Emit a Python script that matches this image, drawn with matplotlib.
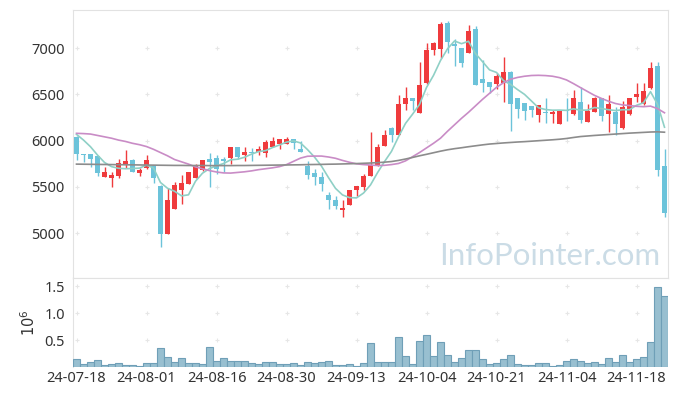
import numpy as np
import matplotlib.pyplot as plt

# 일봉 데이터
opens = [6040, 5855, 5855, 5830, 5610, 5600, 5620, 5745, 5790, 5650,
         5705, 5730, 5510, 4995, 5265, 5460, 5535, 5600, 5680, 5800,
         5810, 5795, 5815, 5930, 5840, 5875, 5875, 5870, 5935, 5960,
         5965, 6015, 5910, 5730, 5645, 5610, 5410, 5355, 5250, 5305,
         5460, 5500, 5620, 5730, 5945, 6140, 6065, 6395, 6460, 6300,
         6620, 6975, 6990, 7275, 7045, 6995, 6950, 7205, 6670, 6630,
         6610, 6625, 6745, 6460, 6405, 6375, 6280, 6310, 6290, 6180,
         6330, 6285, 6415, 6205, 6310, 6460, 6285, 6310, 6135, 6285,
         6475, 6390, 6565, 6805, 5725]
highs = [6045, 5858, 5858, 5835, 5710, 5660, 5795, 5895, 5795, 5700,
         5845, 5735, 5515, 5485, 5555, 5625, 5660, 5745, 5790, 5860,
         5845, 5820, 5935, 5932, 5935, 5915, 5940, 6005, 6040, 6015,
         6035, 6018, 5990, 5780, 5690, 5655, 5445, 5395, 5355, 5470,
         5510, 5640, 6090, 5960, 6115, 6150, 6490, 6575, 6465, 6850,
         7050, 7060, 7285, 7295, 7095, 7000, 7250, 7240, 6870, 6632,
         6725, 6900, 6748, 6462, 6408, 6378, 6380, 6455, 6330, 6320,
         6455, 6545, 6580, 6400, 6470, 6465, 6495, 6365, 6430, 6465,
         6620, 6625, 6850, 6850, 5905]
lows = [5790, 5770, 5715, 5615, 5605, 5500, 5600, 5700, 5660, 5615,
        5695, 5545, 4850, 4990, 5260, 5315, 5530, 5595, 5675, 5500,
        5640, 5665, 5750, 5800, 5780, 5780, 5845, 5825, 5930, 5905,
        5960, 5910, 5875, 5585, 5520, 5455, 5265, 5255, 5175, 5300,
        5395, 5470, 5615, 5725, 5940, 5985, 6060, 6330, 6330, 6295,
        6615, 6925, 6890, 6945, 6810, 6800, 6945, 6600, 6530, 6510,
        6555, 6415, 6105, 6240, 6220, 6250, 6205, 6185, 6185, 6178,
        6215, 6280, 6185, 6200, 6305, 6215, 6090, 6065, 6130, 6280,
        6420, 6385, 6560, 5620, 5175]
closes = [5855, 5845, 5805, 5650, 5660, 5630, 5755, 5780, 5665, 5680,
          5790, 5600, 4995, 5355, 5520, 5540, 5655, 5730, 5790, 5770,
          5690, 5775, 5930, 5825, 5875, 5860, 5910, 5985, 5990, 6015,
          6015, 5975, 5875, 5630, 5610, 5525, 5355, 5295, 5275, 5465,
          5510, 5615, 5735, 5935, 6065, 6065, 6400, 6460, 6430, 6595,
          6980, 7055, 7265, 7060, 7020, 6835, 7185, 6600, 6625, 6575,
          6695, 6745, 6395, 6345, 6315, 6335, 6380, 6300, 6310, 6320,
          6320, 6465, 6225, 6315, 6460, 6265, 6400, 6180, 6360, 6460,
          6505, 6535, 6780, 5680, 5220]
# 거래량 (단위: 10^6)
volumes = [0.14, 0.055, 0.10, 0.13, 0.03, 0.05, 0.07, 0.03, 0.03, 0.012,
           0.068, 0.068, 0.36, 0.18, 0.09, 0.16, 0.068, 0.068, 0.05, 0.38,
           0.12, 0.16, 0.12, 0.12, 0.12, 0.068, 0.05, 0.086, 0.086, 0.05,
           0.05, 0.068, 0.03, 0.10, 0.068, 0.086, 0.12, 0.03, 0.03, 0.05,
           0.012, 0.068, 0.45, 0.086, 0.10, 0.10, 0.55, 0.20, 0.05, 0.49,
           0.60, 0.20, 0.47, 0.23, 0.10, 0.16, 0.31, 0.31, 0.14, 0.05,
           0.068, 0.14, 0.23, 0.05, 0.03, 0.03, 0.068, 0.068, 0.012, 0.03,
           0.12, 0.14, 0.12, 0.068, 0.10, 0.05, 0.16, 0.086, 0.22, 0.10,
           0.14, 0.18, 0.47, 1.49, 1.31]
# 이동평균선 (앞부분은 차트 범위 이전 데이터가 필요하므로 그림에서 읽음)
ma5_head = [6067, 6005, 5933, 5843]
ma20 = [6078, 6075, 6070, 6055, 6040, 6025, 6005, 5990, 5970, 5955,
        5935, 5905, 5870, 5835, 5795, 5770, 5745, 5715, 5695, 5675,
        5660, 5650, 5648, 5655, 5662, 5672, 5685, 5695, 5705, 5718,
        5740, 5775, 5810, 5830, 5832, 5832, 5822, 5808, 5785, 5765,
        5748, 5740, 5735, 5730, 5732, 5740, 5752, 5780, 5825, 5870,
        5920, 5970, 6025, 6100, 6170, 6240, 6305, 6375, 6445, 6510,
        6575, 6625, 6662, 6682, 6695, 6703, 6705, 6702, 6695, 6680,
        6655, 6615, 6572, 6530, 6488, 6455, 6425, 6400, 6385, 6378,
        6370, 6366, 6372, 6345, 6300]
ma120 = [5745, 5744, 5743, 5742, 5741, 5740, 5739, 5738, 5737, 5736,
         5735, 5734, 5733, 5732, 5731, 5731, 5730, 5730, 5730, 5729,
         5729, 5729, 5729, 5730, 5730, 5731, 5732, 5733, 5734, 5735,
         5736, 5737, 5738, 5740, 5741, 5742, 5744, 5745, 5747, 5749,
         5751, 5754, 5757, 5761, 5766, 5773, 5785, 5800, 5817, 5835,
         5851, 5868, 5885, 5900, 5912, 5922, 5933, 5943, 5953, 5962,
         5968, 5974, 5979, 5984, 5988, 5993, 5998, 6003, 6008, 6014,
         6022, 6033, 6043, 6049, 6055, 6060, 6065, 6070, 6075, 6080,
         6084, 6088, 6092, 6094, 6090]
tick_labels = ["24-07-18", "24-08-01", "24-08-16", "24-08-30", "24-09-13",
               "24-10-04", "24-10-21", "24-11-04", "24-11-18"]

UP = "#ef3b3d"
DOWN = "#6cc3da"
GRID = "#e6e6e6"

plt.rcParams['font.family'] = ['Noto Sans', 'DejaVu Sans']

o = np.array(opens, float)
h = np.array(highs, float)
l = np.array(lows, float)
c = np.array(closes, float)
x = np.arange(len(c))
up = c >= o

ma5 = np.convolve(c, np.ones(5) / 5, mode='valid')
ma5 = np.concatenate([ma5_head, ma5])

fig = plt.figure(figsize=(6.77, 3.96), dpi=100)
ax = fig.add_axes([73 / 677, 1 - 278 / 396, 595 / 677, 268 / 396])
axv = fig.add_axes([73 / 677, 1 - 367 / 396, 595 / 677, 89 / 396], sharex=ax)

# 캔들
colors = np.where(up, UP, DOWN)
ax.vlines(x, l, h, colors=colors, linewidth=1, zorder=3)
body_bot = np.minimum(o, c)
body_h = np.maximum(np.abs(c - o), 10)
ax.bar(x, body_h, bottom=body_bot, width=0.72, color=colors, linewidth=0, zorder=4)

ax.plot(x, ma5, color="#8fd0c6", linewidth=1.2, zorder=5)
ax.plot(x, ma20, color="#c98cc6", linewidth=1.2, zorder=5)
ax.plot(x, ma120, color="#8c8c8c", linewidth=1.2, zorder=5)

ax.set_xlim(-0.5, len(c) - 0.5)
ax.set_ylim(4514, 7411)
yt = [5000, 5500, 6000, 6500, 7000]
ax.set_yticks(yt)
ax.set_yticklabels([str(v) for v in yt])
xt = np.arange(0, len(c), 10)
ax.set_xticks(xt)
ax.tick_params(axis='x', labelbottom=False, length=0)
ax.tick_params(axis='y', length=0, labelsize=10.5, labelcolor="#333333", pad=6)
for s in ax.spines.values():
    s.set_color("#e2e2e2")
# 격자 십자 표시
gx, gy = np.meshgrid(xt, yt)
ax.scatter(gx.ravel(), gy.ravel(), marker='+', s=10, color=GRID, linewidths=0.8, zorder=1)

ax.text(0.9875, 0.03, "InfoPointer.com", transform=ax.transAxes, ha='right', va='bottom',
        fontsize=22.5, color="#cbdce6", family=['Lato', 'DejaVu Sans'], zorder=0)

# 거래량
axv.bar(x, volumes, width=1.0, color="#98bfd0", edgecolor="#6f9fb7", linewidth=0.8, zorder=3)
axv.set_ylim(0, 1.65)
vt = [0.5, 1.0, 1.5]
axv.set_yticks(vt)
axv.set_yticklabels(["0.5", "1.0", "1.5"])
axv.set_xticks(xt)
axv.set_xticklabels(tick_labels)
axv.tick_params(axis='x', length=0, labelsize=10.5, labelcolor="#333333", pad=3)
axv.tick_params(axis='y', length=0, labelsize=10.5, labelcolor="#333333", pad=6)
for s in axv.spines.values():
    s.set_color("#e2e2e2")
axv.spines['bottom'].set_visible(False)
axv.spines['right'].set_visible(False)
gx, gy = np.meshgrid(xt, vt)
axv.scatter(gx.ravel(), gy.ravel(), marker='+', s=10, color=GRID, linewidths=0.8, zorder=1)
axv.set_ylabel(r"$10^6$", fontsize=10.5, color="#333333", labelpad=4)

fig.savefig("out.png", dpi=100)
